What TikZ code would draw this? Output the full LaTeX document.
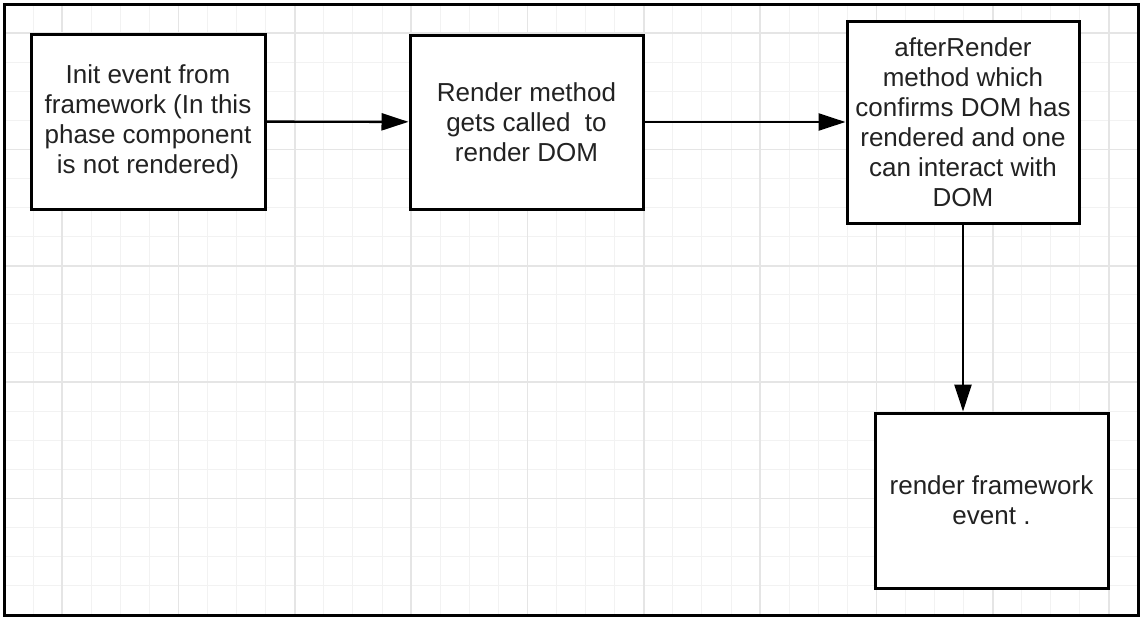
\documentclass[tikz,border=0pt]{standalone}
\usepackage{fontspec}
\setmainfont{Liberation Sans}
\usepackage{xcolor}
\usetikzlibrary{arrows.meta,positioning}
\definecolor{gridMinor}{RGB}{242,242,242}
\definecolor{gridMajor}{RGB}{229,229,229}
\definecolor{boxText}{RGB}{34,34,34}
\tikzset{
  stepbox/.style={draw, line width=1.5pt, fill=white, align=center, inner sep=0pt,
    text=boxText, font=\fontsize{13}{15}\selectfont},
  flow/.style={line width=1.2pt, -{Triangle[length=13.5pt,width=8.5pt]}}
}

\begin{document}
\begin{tikzpicture}[x=0.5pt,y=-0.5pt]
    \useasboundingbox (0,0) rectangle (1141,617);

    % grid paper
    \foreach \k in {1,...,38}
      \draw[gridMinor, line width=0.5pt] ({4+29.08*\k},4) -- ({4+29.08*\k},615);
    \foreach \k in {1,...,20}
      \draw[gridMinor, line width=0.5pt] (4,{4+29.08*\k}) -- (1138,{4+29.08*\k});
    \foreach \k in {2,6,...,38}
      \draw[gridMajor, line width=0.8pt] ({4+29.08*\k},4) -- ({4+29.08*\k},615);
    \foreach \k in {1,5,...,17}
      \draw[gridMajor, line width=0.8pt] (4,{4+29.08*\k}) -- (1138,{4+29.08*\k});

    % frame
    \draw[line width=1.5pt] (4,4) rectangle (1138,615);

    % boxes
    \node[stepbox, minimum width=117pt, minimum height=87.5pt] (init) at (148,121.5)
      {Init event from\\framework (In this\\phase component\\is not rendered)};
    \node[stepbox, minimum width=116.5pt, minimum height=87pt] (render) at (526.5,122)
      {Render method\\gets called\ \ to\\render DOM};
    \node[stepbox, minimum width=116pt, minimum height=101pt] (after) at (963,122)
      {afterRender\\method which\\confirms DOM has\\rendered and one\\can interact with\\DOM};
    \node[stepbox, minimum width=116.5pt, minimum height=87.5pt] (fwevent) at (991.5,500.5)
      {render framework\\event .};

    % arrows
    \draw[flow] (init) -- (render);
    \draw[flow] (render) -- (after);
    \draw[flow] (after.south) -- (after.south |- fwevent.north);
\end{tikzpicture}
\end{document}
